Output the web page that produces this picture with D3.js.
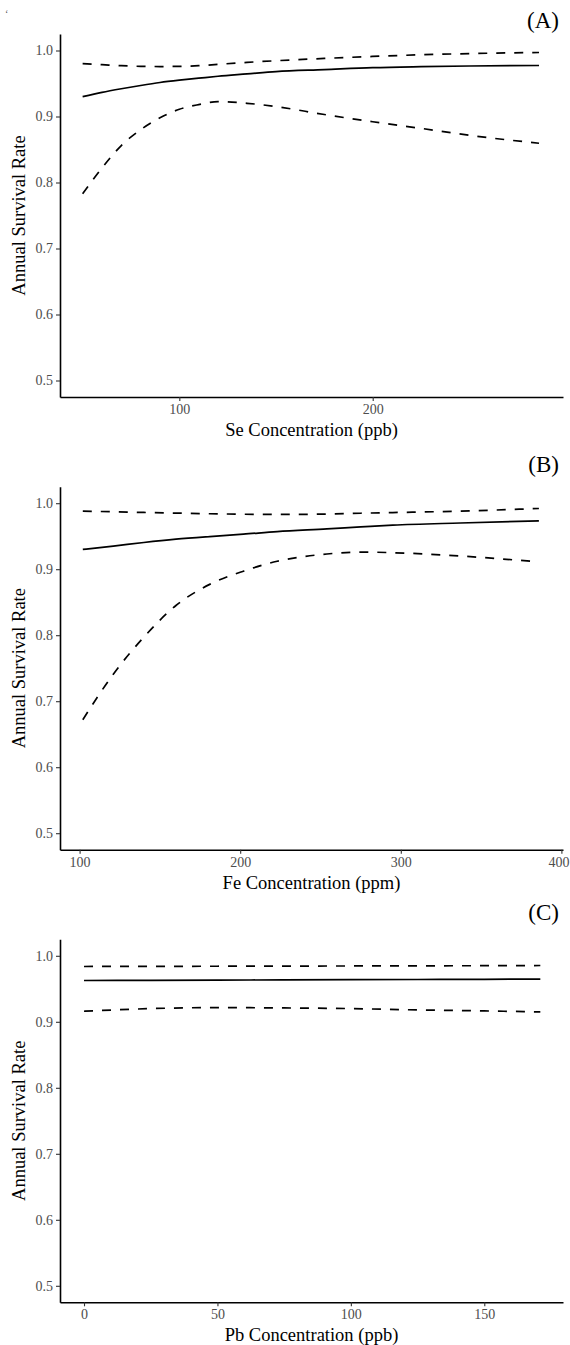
<!DOCTYPE html>
<html>
<head>
<meta charset="utf-8">
<script src="https://cdnjs.cloudflare.com/ajax/libs/d3/7.8.5/d3.min.js"></script>
<style>
  body { margin: 0; background: #fff; }
  svg { display: block; font-family: "Liberation Serif", "Times New Roman", serif; }
</style>
</head>
<body>
<div id="chart"></div>
<script>
// panel A - selenium
var seConc = [50, 60, 70, 80, 90, 100, 110, 120, 135, 150, 175, 200, 225, 250, 286];
var seFit = [0.930, 0.9365, 0.942, 0.947, 0.9515, 0.955, 0.958, 0.961, 0.9645, 0.968, 0.971, 0.974, 0.9755, 0.9765, 0.9773];
var seLow = [0.783, 0.822, 0.856, 0.880, 0.898, 0.911, 0.918, 0.9225, 0.920, 0.915, 0.903, 0.892, 0.882, 0.8715, 0.8595];
var seUp = [0.980, 0.9785, 0.977, 0.976, 0.9757, 0.976, 0.977, 0.979, 0.982, 0.9845, 0.988, 0.991, 0.9935, 0.9953, 0.997];
var seTicks = [100, 200];

// panel B - iron
var feConc = [102, 121, 140, 160, 181, 202, 223, 254, 275, 295, 337, 386];
var feFit = [0.930, 0.935, 0.9405, 0.9455, 0.9495, 0.953, 0.957, 0.961, 0.964, 0.9667, 0.970, 0.9732];
var feLow = [0.672, 0.741, 0.797, 0.845, 0.877, 0.897, 0.912, 0.923, 0.926, 0.925, 0.920, 0.911];
var feUp = [0.988, 0.987, 0.986, 0.985, 0.984, 0.9833, 0.983, 0.9835, 0.9848, 0.9858, 0.988, 0.992];
var feTicks = [100, 200, 300, 400];

// panel C - lead
var pbConc = [0, 25, 50, 75, 100, 125, 150, 171];
var pbFit = [0.9626, 0.9629, 0.9632, 0.9635, 0.9638, 0.9641, 0.9644, 0.9647];
var pbLow = [0.916, 0.920, 0.9215, 0.921, 0.920, 0.918, 0.9165, 0.915];
var pbUp = [0.9838, 0.984, 0.9842, 0.9844, 0.9846, 0.9848, 0.985, 0.9853];
var pbTicks = [0, 50, 100, 150];

var yTicks = [0.5, 0.6, 0.7, 0.8, 0.9, 1.0];

var width = 570, height = 1345;
var left = 60, right = 563, plotH = 363;

var svg = d3.select('#chart').append('svg')
  .attr('width', width)
  .attr('height', height);

svg.append('rect').attr('width', width).attr('height', height).attr('fill', '#fff');

// stray mark in the corner of the original
svg.append('text').attr('x', 5).attr('y', 17).attr('font-size', 10).attr('fill', '#555').text('\u02bb');

function panel(top, label, labelY, xTitle, xDomain, xTicks, conc, fit, low, up) {
  var x = d3.scaleLinear().domain(xDomain).range([left, right]);
  var y = d3.scaleLinear().domain([0.475, 1.025]).range([top + plotH, top]);
  var g = svg.append('g');

  var line = d3.line()
    .x(function(d) { return x(d[0]); })
    .y(function(d) { return y(d[1]); })
    .curve(d3.curveMonotoneX);

  g.append('path').datum(d3.zip(conc, up))
    .attr('d', line).attr('fill', 'none').attr('stroke', '#000')
    .attr('stroke-width', 1.7).attr('stroke-dasharray', '9,9');
  g.append('path').datum(d3.zip(conc, low))
    .attr('d', line).attr('fill', 'none').attr('stroke', '#000')
    .attr('stroke-width', 1.7).attr('stroke-dasharray', '9,9');
  g.append('path').datum(d3.zip(conc, fit))
    .attr('d', line).attr('fill', 'none').attr('stroke', '#000')
    .attr('stroke-width', 1.7);

  var xAxis = g.append('g')
    .attr('transform', 'translate(0,' + (top + plotH) + ')')
    .call(d3.axisBottom(x).tickValues(xTicks).tickSize(4).tickSizeOuter(0).tickPadding(3)
      .tickFormat(d3.format('d')));
  var yAxis = g.append('g')
    .attr('transform', 'translate(' + left + ',0)')
    .call(d3.axisLeft(y).tickValues(yTicks).tickSize(4).tickSizeOuter(0).tickPadding(3)
      .tickFormat(d3.format('.1f')));

  [xAxis, yAxis].forEach(function(a) {
    a.select('.domain').attr('stroke', '#000').attr('stroke-width', 1.6);
    a.selectAll('.tick line').attr('stroke', '#333').attr('stroke-width', 1.1);
    a.selectAll('.tick text').attr('fill', '#4d4d4d').attr('font-size', 14)
      .attr('font-family', '"Liberation Serif", "Times New Roman", serif');
  });

  // keep an end label inside the page
  xAxis.selectAll('.tick text').each(function(d) {
    var w = this.getComputedTextLength();
    var over = x(d) + w / 2 - (width - 1);
    if (over > 0) d3.select(this).attr('dx', -over);
  });

  g.append('text')
    .attr('x', (left + right) / 2).attr('y', top + plotH + 39)
    .attr('text-anchor', 'middle').attr('font-size', 18.5).attr('fill', '#000')
    .text(xTitle);

  g.append('text')
    .attr('transform', 'translate(25,' + (top + plotH / 2) + ') rotate(-90)')
    .attr('text-anchor', 'middle').attr('font-size', 18.5).attr('fill', '#000')
    .text('Annual Survival Rate');

  g.append('text')
    .attr('x', 559).attr('y', labelY)
    .attr('text-anchor', 'end').attr('font-size', 23).attr('fill', '#000')
    .text(label);
}

panel(34, '(A)', 28, 'Se Concentration (ppb)', [38.3, 298.4], seTicks, seConc, seFit, seLow, seUp);
panel(486.7, '(B)', 472, 'Fe Concentration (ppm)', [87.8, 401.0], feTicks, feConc, feFit, feLow, feUp);
panel(939.3, '(C)', 920, 'Pb Concentration (ppb)', [-9.0, 179.5], pbTicks, pbConc, pbFit, pbLow, pbUp);
</script>
</body>
</html>
